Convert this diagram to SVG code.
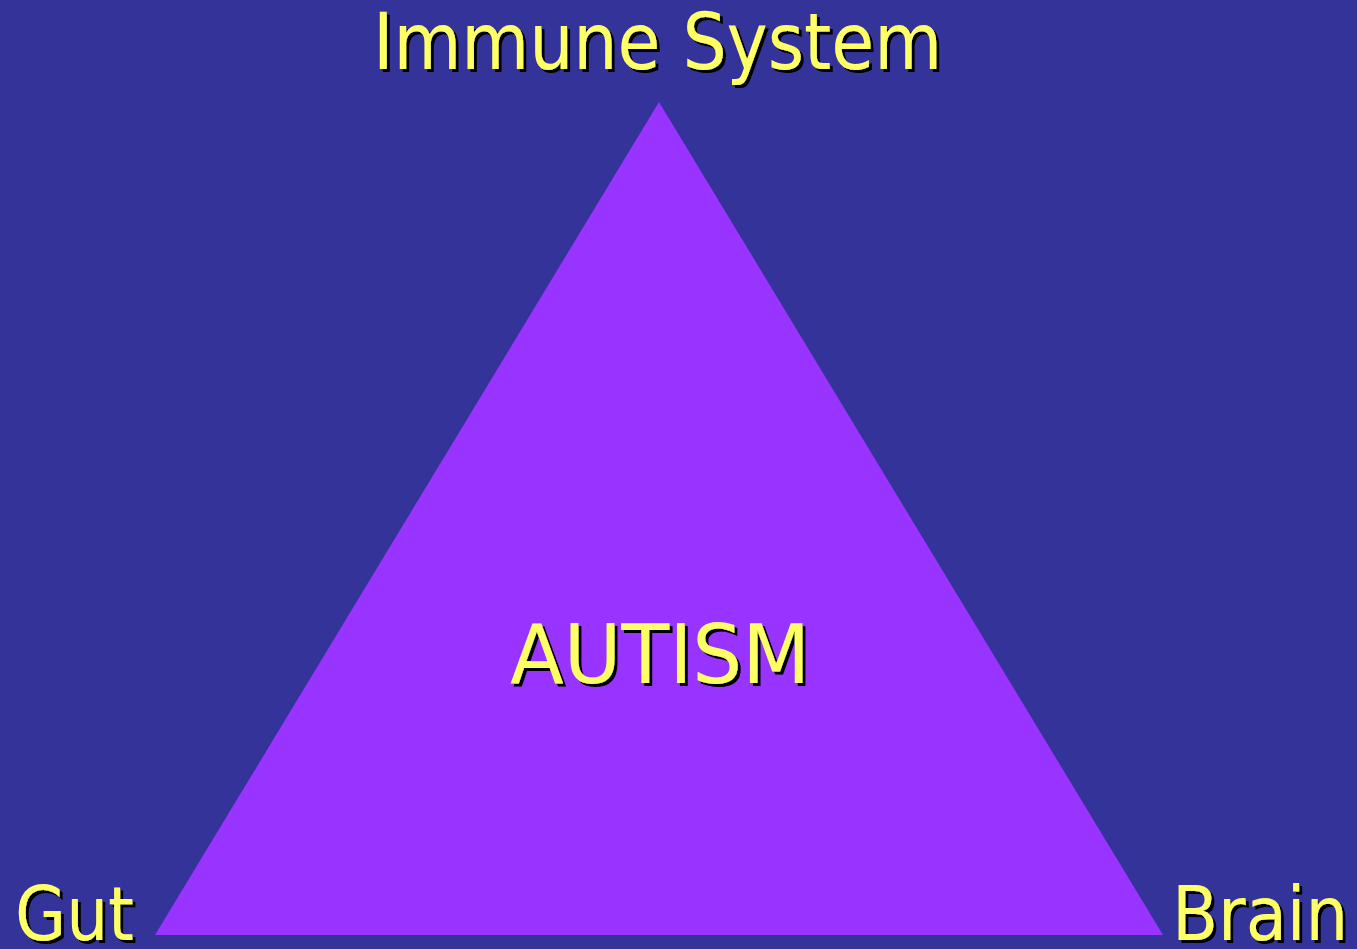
<svg xmlns="http://www.w3.org/2000/svg" width="1357" height="949" viewBox="0 0 1357 949">
<style>
.t{font-family:"DejaVu Sans Condensed","DejaVu Sans","Liberation Sans",sans-serif;font-size:78px;fill:#FFFF66;filter:url(#sh)}
</style>
<defs>
<filter id="sh" x="-5%" y="-20%" width="110%" height="140%">
<feFlood flood-color="#000000"/>
<feComposite in2="SourceAlpha" operator="in"/>
<feOffset dx="3" dy="3" result="shadow"/>
<feMerge><feMergeNode in="shadow"/><feMergeNode in="SourceGraphic"/></feMerge>
</filter>
</defs>
<rect width="1357" height="949" fill="#333399"/>
<g id="triangle">
<polygon points="659,102 155,935 1163,935" fill="#9933FF"/>
</g>
<g id="immune">
<text class="t" x="373" y="69" textLength="569" lengthAdjust="spacingAndGlyphs">Immune System</text>
</g>
<g id="autism">
<text class="t" x="510" y="683" style="font-size:82px" textLength="300" lengthAdjust="spacingAndGlyphs">AUTISM</text>
</g>
<g id="gut">
<text class="t" x="15" y="940" style="font-size:74px" textLength="119" lengthAdjust="spacingAndGlyphs">Gut</text>
</g>
<g id="brain">
<text class="t" x="1172" y="940" style="font-size:74px" textLength="176" lengthAdjust="spacingAndGlyphs">Brain</text>
</g>
<g id="connectors"></g>
</svg>
